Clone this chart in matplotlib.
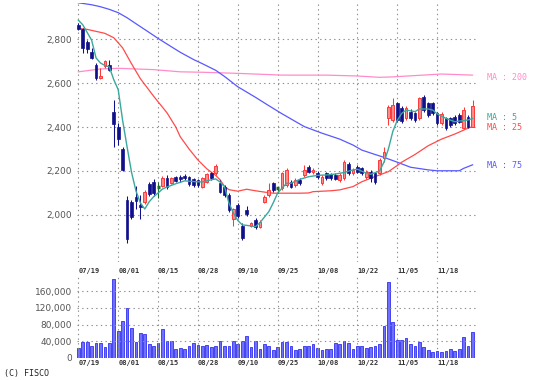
import matplotlib.pyplot as plt
import matplotlib.transforms as mtransforms
from matplotlib.ticker import FuncFormatter

# dates shown on the axis (every 9 trading days)
tick_labels = ['07/19', '08/01', '08/15', '08/28', '09/10', '09/25', '10/08', '10/22', '11/05', '11/18']
tick_pos = [0, 9, 18, 27, 36, 45, 54, 63, 72, 81]

# daily candles, index 0 = 07/19
opens = [2865, 2845, 2785, 2740, 2680, 2622, 2678, 2682, 2470, 2400,
         2300, 2070, 2060, 2083, 2045, 2060, 2140, 2150, 2125, 2130,
         2170, 2144, 2171, 2174, 2177, 2171, 2162, 2159, 2129, 2152,
         2189, 2189, 2147, 2129, 2091, 1980, 2046, 1950, 2023, 1950,
         1977, 1947, 2061, 2091, 2144, 2121, 2121, 2136, 2152, 2136,
         2159, 2182, 2220, 2195, 2190, 2144, 2190, 2185, 2182, 2159,
         2167, 2230, 2190, 2220, 2213, 2174, 2197, 2190, 2190, 2258,
         2439, 2432, 2508, 2486, 2440, 2470, 2462, 2440, 2538, 2508,
         2508, 2462, 2417, 2440, 2440, 2447, 2455, 2394, 2447, 2402]
highs = [2875, 2850, 2795, 2760, 2690, 2668, 2703, 2705, 2523, 2420,
         2310, 2085, 2070, 2130, 2090, 2115, 2150, 2165, 2150, 2175,
         2180, 2174, 2178, 2182, 2185, 2177, 2168, 2165, 2174, 2193,
         2197, 2232, 2159, 2136, 2099, 2030, 2053, 1962, 2040, 1970,
         1985, 1977, 2091, 2144, 2152, 2129, 2197, 2212, 2159, 2167,
         2167, 2227, 2227, 2215, 2200, 2182, 2197, 2193, 2190, 2193,
         2250, 2240, 2212, 2227, 2220, 2205, 2205, 2197, 2258, 2311,
         2500, 2530, 2515, 2495, 2495, 2480, 2470, 2535, 2545, 2515,
         2515, 2470, 2470, 2447, 2447, 2455, 2462, 2490, 2455, 2523]
lows = [2840, 2735, 2735, 2710, 2612, 2618, 2668, 2655, 2310, 2320,
        2200, 1873, 1980, 2025, 1980, 2050, 2085, 2085, 2075, 2125,
        2120, 2140, 2150, 2152, 2160, 2130, 2128, 2128, 2122, 2147,
        2160, 2182, 2099, 2083, 2015, 1950, 1985, 1886, 1995, 1945,
        1935, 1940, 2053, 2083, 2106, 2099, 2114, 2129, 2122, 2129,
        2136, 2174, 2189, 2185, 2165, 2136, 2160, 2160, 2159, 2150,
        2159, 2182, 2182, 2189, 2182, 2165, 2150, 2140, 2182, 2243,
        2409, 2421, 2424, 2418, 2432, 2432, 2424, 2432, 2470, 2447,
        2455, 2410, 2409, 2388, 2400, 2410, 2417, 2390, 2395, 2398]
closes = [2845, 2760, 2755, 2715, 2625, 2632, 2700, 2660, 2415, 2345,
          2205, 1890, 1990, 2062, 2035, 2105, 2095, 2100, 2125, 2168,
          2128, 2167, 2156, 2165, 2168, 2141, 2136, 2136, 2167, 2185,
          2167, 2223, 2106, 2091, 2023, 2026, 1993, 1894, 2005, 1965,
          1944, 1970, 2083, 2114, 2114, 2121, 2189, 2205, 2129, 2159,
          2144, 2205, 2197, 2203, 2172, 2174, 2167, 2170, 2165, 2182,
          2242, 2190, 2205, 2197, 2190, 2197, 2167, 2151, 2250, 2288,
          2492, 2500, 2432, 2426, 2485, 2440, 2432, 2530, 2477, 2455,
          2462, 2417, 2458, 2394, 2410, 2417, 2424, 2477, 2402, 2497]
volume = [23500, 37600, 37600, 29800, 35300, 35300, 25900, 35300, 189000, 65000,
          88600, 118400, 71300, 37600, 58800, 57200, 33700, 29800, 36000, 69000,
          41500, 41500, 22700, 24300, 22000, 28200, 35300, 32100, 29000, 31400,
          25900, 29000, 41500, 28200, 29800, 41500, 34500, 41500, 51700, 25900,
          41500, 20400, 33700, 28200, 19600, 25100, 39200, 37600, 28200, 18000,
          22000, 28200, 28200, 33700, 24300, 18000, 20400, 22000, 36000, 33700,
          41500, 36000, 22000, 29800, 29800, 24300, 25900, 29800, 33700, 75300,
          182700, 86200, 43900, 43900, 47800, 33700, 29800, 39200, 25900, 18000,
          14100, 15700, 14100, 15700, 20400, 15700, 22000, 49400, 29800, 62700]

# moving averages (index, value)
ma5_idx = [0, 1, 2, 3, 4, 5, 6, 7, 8, 9, 10, 11, 12, 13, 14, 15, 16, 17, 18, 19, 20, 22, 24, 26,
           28, 30, 31, 32, 33, 34, 35, 36, 37, 39, 40, 41, 43, 44, 45, 47, 48, 50, 52, 54, 56,
           58, 60, 62, 63, 65, 66, 68, 69, 70, 71, 72, 73, 74, 76, 77, 79, 80, 81, 83, 85, 86,
           88, 89]
ma5_val = [2886, 2865, 2830, 2795, 2714, 2691, 2680, 2673, 2615, 2570, 2430, 2310, 2195, 2110,
           2055, 2027, 2060, 2083, 2100, 2118, 2127, 2142, 2155, 2152, 2150, 2160, 2164, 2150,
           2129, 2054, 2009, 1975, 1955, 1950, 1947, 1965, 2015, 2055, 2100, 2144, 2144, 2162,
           2174, 2180, 2182, 2186, 2193, 2205, 2208, 2190, 2185, 2200, 2240, 2300, 2380, 2430,
           2462, 2477, 2470, 2482, 2482, 2477, 2460, 2439, 2424, 2427, 2432, 2439]
ma25_idx = [0, 2, 4, 6, 8, 10, 12, 14, 17, 20, 22, 23, 25, 27, 29, 31, 32, 33, 34, 36, 38, 40,
            42, 44, 46, 48, 50, 52, 53, 57, 59, 62, 64, 66, 68, 70, 72, 73, 76, 79, 82, 85, 88, 89]
ma25_val = [2849, 2844, 2835, 2826, 2806, 2760, 2688, 2620, 2540, 2465, 2400, 2356, 2300, 2250,
            2210, 2180, 2160, 2130, 2115, 2108, 2117, 2110, 2104, 2099, 2099, 2099, 2099, 2100,
            2106, 2110, 2114, 2129, 2151, 2167, 2182, 2197, 2225, 2240, 2275, 2315, 2345, 2368,
            2395, 2402]
ma75_idx = [0, 3, 5, 7, 9, 11, 13, 16, 18, 21, 23, 26, 28, 31, 33, 36, 40, 43, 46, 51, 55,
            59, 62, 64, 67, 69, 72, 75, 79, 81, 86, 87, 89]
ma75_val = [2965, 2956, 2947, 2935, 2920, 2897, 2870, 2830, 2803, 2765, 2740, 2707, 2688, 2658,
            2630, 2583, 2535, 2497, 2460, 2402, 2372, 2345, 2318, 2295, 2275, 2262, 2240, 2217,
            2205, 2201, 2201, 2212, 2228]
ma200_idx = [0, 5, 9, 17, 23, 28, 36, 46, 56, 63, 68, 71, 82, 89]
ma200_val = [2651, 2664, 2667, 2661, 2651, 2649, 2644, 2636, 2636, 2632, 2626, 2628, 2641, 2636]

c_down = '#10108a'
c_up = '#ff3838'
c_up_fill = '#ff8a8a'
c_even = '#1e6e2a'
grid_kw = dict(color='#8c8c8c', linestyle=(0, (1.2, 3)), linewidth=0.8)
mono = 'DejaVu Sans Mono'

fig = plt.figure(figsize=(5.45, 3.8), dpi=100)
ax = fig.add_axes([0.1413, 0.3105, 0.7339, 0.6816])
axv = fig.add_axes([0.1413, 0.0579, 0.7339, 0.2158])

# price panel
for i in range(len(opens)):
    o, h, l, c = opens[i], highs[i], lows[i], closes[i]
    if c > o:
        ax.vlines(i, l, h, color=c_up, lw=0.75, zorder=3)
        ax.bar(i, c - o, bottom=o, width=0.62, color=c_up_fill, edgecolor=c_up, lw=0.7, zorder=4)
    elif c < o:
        ax.vlines(i, l, h, color=c_down, lw=0.75, zorder=3)
        ax.bar(i, o - c, bottom=c, width=0.62, color=c_down, edgecolor=c_down, lw=0.5, zorder=4)
    else:
        ax.vlines(i, l, h, color=c_even, lw=0.75, zorder=3)
        ax.hlines(o, i - 0.35, i + 0.35, color=c_even, lw=2.5, zorder=4)

ax.plot(ma200_idx, ma200_val, color='#ff8cc8', lw=0.9, zorder=2)
ax.plot(ma75_idx, ma75_val, color='#5858ff', lw=0.9, zorder=2)
ax.plot(ma25_idx, ma25_val, color='#ff4a4a', lw=0.9, zorder=2)
ax.plot(ma5_idx, ma5_val, color='#3aa89c', lw=1.0, zorder=5)

ax.set_xlim(-0.3, 90)
ax.set_ylim(1786, 2964)
ax.set_yticks([2000, 2200, 2400, 2600, 2800])
ax.yaxis.set_major_formatter(FuncFormatter(lambda v, p: f'{int(v):,}'))

# volume panel
axv.bar(range(len(volume)), volume, width=0.62, color='#7070ff', edgecolor='#3030f0', lw=0.6, zorder=2)
axv.set_xlim(-0.3, 90)
axv.set_ylim(0, 196000)
axv.set_yticks([0, 40000, 80000, 120000, 160000])
axv.yaxis.set_major_formatter(FuncFormatter(lambda v, p: f'{int(v):,}'))

for a, pad in ((ax, 4.5), (axv, 1.5)):
    a.set_xticks(tick_pos)
    a.set_xticklabels(tick_labels, ha='left', fontsize=5, family=mono, fontweight='bold', color='#333333')
    a.tick_params(axis='x', length=0, pad=pad)
    a.tick_params(axis='y', length=0, pad=3.5, labelsize=6.5, labelcolor='#555555')
    a.grid(True, **grid_kw)
    for s in a.spines.values():
        s.set_visible(False)
ax.set_axisbelow(True)
axv.set_axisbelow(False)

# moving average labels on the right
tr = mtransforms.blended_transform_factory(fig.transFigure, ax.transData)
lab_kw = dict(transform=tr, fontsize=6, family=mono, va='center', ha='left')
ax.text(0.893, 2627, 'MA : 200', color='#ff8cc8', **lab_kw)
ax.text(0.893, 2441, 'MA : 5', color='#3aa89c', **lab_kw)
ax.text(0.893, 2400, 'MA : 25', color='#ff4a4a', **lab_kw)
ax.text(0.893, 2223, 'MA : 75', color='#5858ff', **lab_kw)

fig.text(0.008, 0.018, '(C) FISCO', fontsize=6, family=mono, color='#222222', va='center')

fig.savefig('out.png', dpi=100)
